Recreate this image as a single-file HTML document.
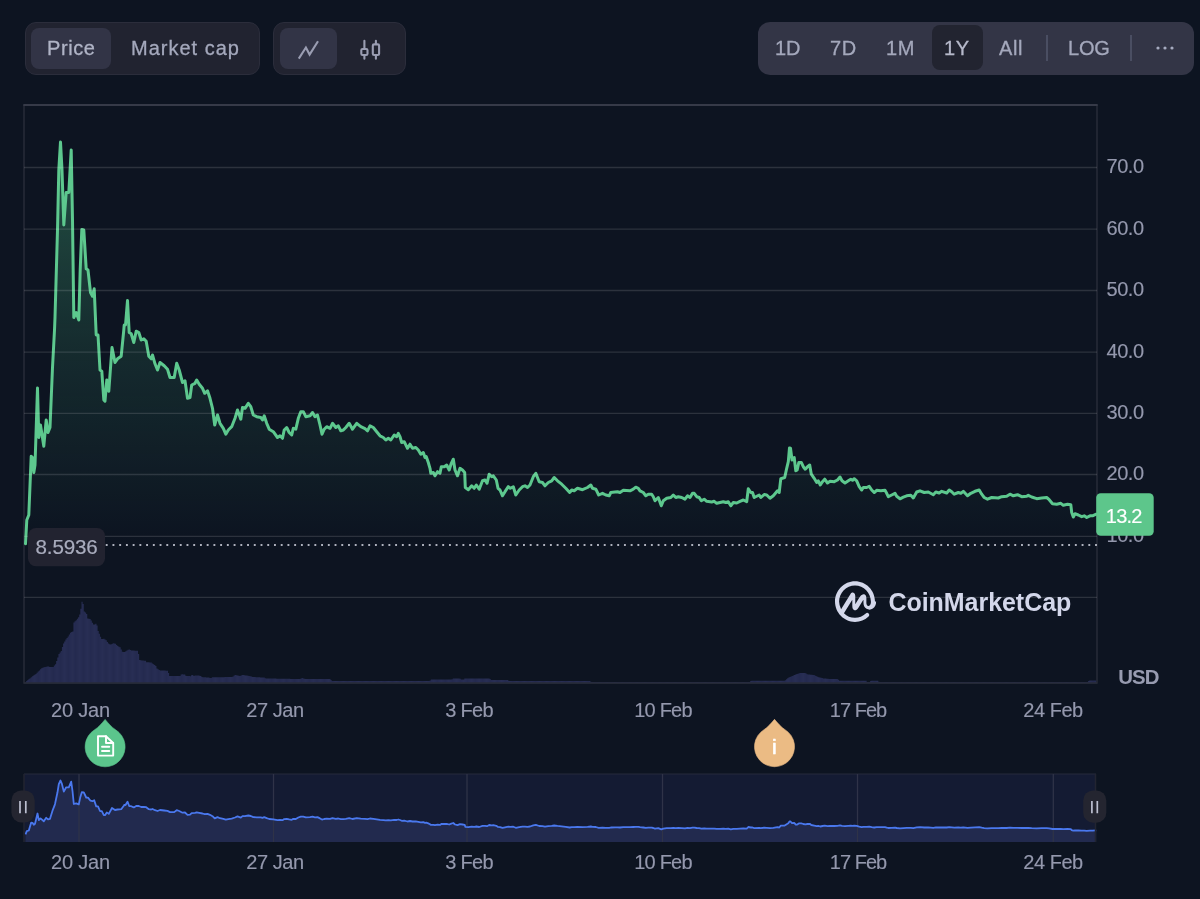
<!DOCTYPE html>
<html lang="en">
<head>
<meta charset="utf-8">
<title>Price chart</title>
<style>
html,body{margin:0;padding:0;}
body{width:1200px;height:899px;overflow:hidden;background:#0d1421;font-family:"Liberation Sans",sans-serif;position:relative;color:#a1a7bb;}
.grp{position:absolute;box-sizing:border-box;border-radius:11px;}
.g1{left:25px;top:22px;width:235px;height:53px;background:#212330;border:1px solid #2b2d3b;}
.g2{left:273px;top:22px;width:133px;height:53px;background:#212330;border:1px solid #2b2d3b;}
.g3{left:758px;top:21.5px;width:435.600px;height:53.200px;background:#333546;border-radius:12px;}
.chip{position:absolute;border-radius:8px;}
.t{position:absolute;font-size:20px;line-height:24px;white-space:nowrap;color:#a4a8bc;letter-spacing:0.6px;will-change:transform;-webkit-text-stroke:0.3px currentColor;}
.ax{font-size:20px;fill:#9498ad;letter-spacing:-0.47px;stroke:#9498ad;stroke-width:0.15px;font-family:"Liberation Sans",sans-serif;}
svg{position:absolute;left:0;top:0;will-change:transform;}
</style>
</head>
<body>

<!-- toolbar left -->
<div class="grp g1"></div>
<div class="chip" style="left:31px;top:28px;width:79.600px;height:41px;background:#323446;"></div>
<div class="t" style="left:46.700px;top:36px;color:#b0b4c6;">Price</div>
<div class="t" style="left:131px;top:36px;letter-spacing:1.0px;">Market cap</div>

<div class="grp g2"></div>
<div class="chip" style="left:280px;top:28px;width:57px;height:41px;background:#323446;"></div>

<!-- toolbar right -->
<div class="grp g3"></div>
<div class="chip" style="left:932px;top:24.5px;width:50.500px;height:45.5px;background:#222430;"></div>
<div class="t" style="left:775px;top:36px;letter-spacing:0px;">1D</div>
<div class="t" style="left:830px;top:36px;">7D</div>
<div class="t" style="left:886px;top:36px;">1M</div>
<div class="t" style="left:944px;top:36px;color:#b6b9ca;">1Y</div>
<div class="t" style="left:999px;top:36px;">All</div>
<div class="t" style="left:1068px;top:36px;letter-spacing:-0.2px;">LOG</div>
<div style="position:absolute;left:1046px;top:35px;width:2px;height:26px;background:#4a4e62;"></div>
<div style="position:absolute;left:1130px;top:35px;width:2px;height:26px;background:#4a4e62;"></div>

<svg width="1200" height="899" viewBox="0 0 1200 899">
  <defs>
    <linearGradient id="ga" x1="0" y1="142" x2="0" y2="545" gradientUnits="userSpaceOnUse">
      <stop offset="0" stop-color="#4fc88a" stop-opacity="0.34"/>
      <stop offset="0.5" stop-color="#4fc88a" stop-opacity="0.135"/>
      <stop offset="1" stop-color="#4fc88a" stop-opacity="0"/>
    </linearGradient>
    <pattern id="vp" x="25" y="0" width="1.153" height="10" patternUnits="userSpaceOnUse">
      <rect x="0" y="0" width="1.153" height="10" fill="#20264a"/>
      <rect x="0" y="0" width="0.85" height="10" fill="#282e54"/>
    </pattern>
    <clipPath id="cp"><rect x="24" y="104" width="1073" height="579"/></clipPath>
  </defs>

  <!-- toolbar icons -->
  <path d="M298.800,58.600 L305.900,47.5 L309.600,54.600 L318,41.300" fill="none" stroke="#9a9db2" stroke-width="2.100" stroke-linecap="butt" stroke-linejoin="miter"/>
  <g fill="none" stroke="#9a9db2" stroke-width="2.100" stroke-linecap="round" stroke-linejoin="round">
    <path d="M364.4,40.800 V48 M364.4,56 V58.700"/>
    <rect x="361.300" y="49" width="6.200" height="6" rx="1.3"/>
    <path d="M375.900,40.800 V43.400 M375.900,56 V58.700"/>
    <rect x="372.800" y="44.400" width="6.300" height="10.600" rx="1.3"/>
  </g>
  <g fill="#a6abc0"><circle cx="1158" cy="48" r="1.6"/><circle cx="1165" cy="48" r="1.6"/><circle cx="1172" cy="48" r="1.6"/></g>

  <path d="M24,105 V683 H1097 V105" fill="none" stroke="#272b39" stroke-width="1.5"/>
  <path d="M23.300,105 H1097.700" fill="none" stroke="#363a48" stroke-width="1.8"/>

  <!-- volume -->
  <path d="M25,683 V682.5 H26.15 V680.9 H27.31 V680.0 H28.46 V679.1 H29.61 V678.2 H30.76 V677.2 H31.92 V676.2 H33.07 V675.5 H34.22 V674.7 H35.38 V673.9 H36.53 V672.7 H37.68 V671.6 H38.84 V670.4 H39.99 V669.3 H41.14 V668.2 H42.29 V667.7 H43.45 V667.2 H44.60 V666.9 H45.75 V666.7 H46.91 V666.5 H48.06 V666.5 H49.21 V666.9 H50.37 V667.1 H51.52 V667.1 H52.67 V666.9 H53.82 V665.6 H54.98 V664.3 H56.13 V661.0 H57.28 V657.6 H58.44 V654.1 H59.59 V652.6 H60.74 V651.1 H61.90 V646.9 H63.05 V643.4 H64.20 V641.5 H65.35 V639.6 H66.51 V638.1 H67.66 V636.5 H68.81 V634.6 H69.97 V632.7 H71.12 V632.0 H72.27 V631.5 H73.43 V622.5 H74.58 V621.3 H75.73 V620.2 H76.89 V618.7 H78.04 V617.2 H79.19 V614.4 H80.34 V608.7 H81.50 V601.8 H82.65 V604.0 H83.80 V611.4 H84.96 V612.4 H86.11 V614.1 H87.26 V618.4 H88.42 V618.7 H89.57 V619.0 H90.72 V620.4 H91.87 V622.7 H93.03 V624.4 H94.18 V624.5 H95.33 V623.7 H96.49 V625.4 H97.64 V631.0 H98.79 V633.8 H99.95 V636.7 H101.10 V639.1 H102.25 V638.9 H103.40 V638.7 H104.56 V639.4 H105.71 V640.2 H106.86 V642.0 H108.02 V643.6 H109.17 V644.2 H110.32 V644.5 H111.48 V643.9 H112.63 V643.3 H113.78 V643.6 H114.93 V643.8 H116.09 V645.0 H117.24 V646.1 H118.39 V646.7 H119.55 V647.2 H120.70 V649.4 H121.85 V651.7 H123.01 V651.9 H124.16 V652.0 H125.31 V651.3 H126.46 V650.5 H127.62 V649.7 H128.77 V649.4 H129.92 V650.0 H131.08 V650.5 H132.23 V650.6 H133.38 V650.6 H134.54 V650.7 H135.69 V650.7 H136.84 V650.8 H137.99 V654.0 H139.15 V660.1 H140.30 V660.2 H141.45 V660.4 H142.61 V660.5 H143.76 V660.7 H144.91 V660.8 H146.07 V662.2 H147.22 V662.3 H148.37 V662.3 H149.52 V662.4 H150.68 V662.5 H151.83 V663.4 H152.98 V664.3 H154.14 V664.9 H155.29 V666.0 H156.44 V668.6 H157.60 V669.3 H158.75 V670.0 H159.90 V670.4 H161.05 V670.4 H162.21 V670.5 H163.36 V670.6 H164.51 V670.6 H165.67 V670.7 H166.82 V670.8 H167.97 V673.1 H169.12 V675.9 H170.28 V675.9 H171.43 V675.9 H172.58 V676.0 H173.74 V676.0 H174.89 V676.0 H176.04 V676.1 H177.20 V676.1 H178.35 V676.1 H179.50 V675.9 H180.65 V674.5 H181.81 V674.3 H182.96 V674.4 H184.11 V674.5 H185.27 V675.8 H186.42 V675.9 H187.57 V676.0 H188.73 V676.1 H189.88 V676.2 H191.03 V675.3 H192.18 V675.1 H193.34 V676.1 H194.49 V675.6 H195.64 V675.4 H196.80 V675.5 H197.95 V675.6 H199.10 V675.7 H200.26 V676.0 H201.41 V676.9 H202.56 V677.2 H203.71 V677.3 H204.87 V677.3 H206.02 V677.4 H207.17 V677.4 H208.33 V677.5 H209.48 V678.0 H210.63 V678.0 H211.79 V677.2 H212.94 V677.2 H214.09 V677.2 H215.24 V677.2 H216.40 V677.2 H217.55 V677.2 H218.70 V677.2 H219.86 V677.2 H221.01 V677.2 H222.16 V677.2 H223.32 V677.2 H224.47 V677.1 H225.62 V677.1 H226.77 V677.1 H227.93 V677.1 H229.08 V677.1 H230.23 V677.0 H231.39 V677.0 H232.54 V676.5 H233.69 V675.6 H234.85 V675.1 H236.00 V675.3 H237.15 V675.5 H238.30 V675.8 H239.46 V676.0 H240.61 V675.5 H241.76 V675.1 H242.92 V675.1 H244.07 V675.3 H245.22 V675.4 H246.38 V675.6 H247.53 V675.7 H248.68 V675.9 H249.83 V676.2 H250.99 V676.6 H252.14 V677.0 H253.29 V677.1 H254.45 V677.1 H255.60 V677.2 H256.75 V677.2 H257.91 V677.3 H259.06 V677.3 H260.21 V677.4 H261.36 V677.4 H262.52 V677.5 H263.67 V677.6 H264.82 V678.2 H265.98 V678.5 H267.13 V678.5 H268.28 V678.5 H269.44 V678.6 H270.59 V678.6 H271.74 V678.6 H272.89 V678.6 H274.05 V678.6 H275.20 V678.6 H276.35 V678.7 H277.51 V678.7 H278.66 V678.7 H279.81 V678.7 H280.97 V678.7 H282.12 V678.7 H283.27 V678.8 H284.42 V678.8 H285.58 V678.8 H286.73 V678.8 H287.88 V678.8 H289.04 V678.8 H290.19 V678.9 H291.34 V678.9 H292.50 V678.9 H293.65 V678.9 H294.80 V678.9 H295.96 V678.9 H297.11 V679.0 H298.26 V679.0 H299.41 V679.0 H300.57 V678.4 H301.72 V678.1 H302.87 V678.4 H304.03 V678.7 H305.18 V678.9 H306.33 V679.0 H307.49 V679.0 H308.64 V679.0 H309.79 V679.0 H310.94 V679.0 H312.10 V679.0 H313.25 V679.0 H314.40 V679.0 H315.56 V679.0 H316.71 V679.0 H317.86 V679.0 H319.02 V679.0 H320.17 V679.0 H321.32 V679.0 H322.47 V679.0 H323.63 V679.0 H324.78 V679.0 H325.93 V679.0 H327.09 V679.0 H328.24 V679.0 H329.39 V679.0 H330.55 V680.1 H331.70 V681.0 H332.85 V681.0 H334.00 V681.0 H335.16 V681.0 H336.31 V681.0 H337.46 V681.0 H338.62 V681.0 H339.77 V681.0 H340.92 V681.0 H342.08 V681.0 H343.23 V681.0 H344.38 V681.0 H345.53 V681.0 H346.69 V681.0 H347.84 V681.0 H348.99 V681.0 H350.15 V681.0 H351.30 V681.0 H352.45 V681.0 H353.61 V681.0 H354.76 V681.0 H355.91 V681.0 H357.06 V681.0 H358.22 V681.0 H359.37 V681.0 H360.52 V681.0 H361.68 V681.0 H362.83 V681.0 H363.98 V681.0 H365.14 V681.0 H366.29 V681.0 H367.44 V681.0 H368.59 V681.0 H369.75 V681.0 H370.90 V681.0 H372.05 V681.0 H373.21 V681.0 H374.36 V681.0 H375.51 V681.0 H376.67 V681.0 H377.82 V681.0 H378.97 V681.0 H380.12 V681.0 H381.28 V681.0 H382.43 V681.0 H383.58 V681.0 H384.74 V681.0 H385.89 V681.0 H387.04 V681.0 H388.20 V681.0 H389.35 V681.0 H390.50 V681.0 H391.65 V681.0 H392.81 V681.0 H393.96 V681.0 H395.11 V681.0 H396.27 V681.0 H397.42 V681.0 H398.57 V681.0 H399.73 V681.0 H400.88 V681.0 H402.03 V681.0 H403.18 V681.0 H404.34 V681.0 H405.49 V681.0 H406.64 V681.0 H407.80 V681.0 H408.95 V681.0 H410.10 V681.0 H411.26 V681.0 H412.41 V681.0 H413.56 V681.0 H414.71 V681.0 H415.87 V681.0 H417.02 V681.0 H418.17 V681.0 H419.33 V681.0 H420.48 V681.0 H421.63 V681.0 H422.79 V681.0 H423.94 V681.0 H425.09 V681.0 H426.24 V681.0 H427.40 V681.0 H428.55 V681.0 H429.70 V680.6 H430.86 V679.5 H432.01 V679.5 H433.16 V679.5 H434.32 V679.5 H435.47 V679.5 H436.62 V679.5 H437.77 V679.5 H438.93 V679.5 H440.08 V679.5 H441.23 V679.5 H442.39 V679.5 H443.54 V679.5 H444.69 V679.5 H445.85 V679.5 H447.00 V679.5 H448.15 V679.5 H449.30 V679.5 H450.46 V679.5 H451.61 V679.3 H452.76 V678.5 H453.92 V678.5 H455.07 V678.5 H456.22 V678.5 H457.38 V678.5 H458.53 V678.5 H459.68 V678.8 H460.83 V679.5 H461.99 V679.5 H463.14 V679.5 H464.29 V678.6 H465.45 V678.5 H466.60 V678.5 H467.75 V678.5 H468.91 V678.5 H470.06 V678.5 H471.21 V678.5 H472.36 V678.5 H473.52 V678.5 H474.67 V678.5 H475.82 V678.5 H476.98 V678.5 H478.13 V678.5 H479.28 V678.5 H480.44 V678.5 H481.59 V678.5 H482.74 V678.5 H483.89 V678.5 H485.05 V678.5 H486.20 V678.5 H487.35 V678.5 H488.51 V678.5 H489.66 V678.9 H490.81 V680.0 H491.97 V680.0 H493.12 V680.0 H494.27 V680.0 H495.42 V680.0 H496.58 V680.0 H497.73 V680.0 H498.88 V680.0 H500.04 V680.0 H501.19 V680.0 H502.34 V680.0 H503.50 V680.0 H504.65 V680.0 H505.80 V680.0 H506.95 V680.0 H508.11 V680.7 H509.26 V681.0 H510.41 V681.0 H511.57 V681.0 H512.72 V681.0 H513.87 V681.0 H515.03 V681.0 H516.18 V681.0 H517.33 V681.0 H518.48 V681.0 H519.64 V681.0 H520.79 V681.0 H521.94 V681.0 H523.10 V681.0 H524.25 V681.0 H525.40 V681.0 H526.56 V681.0 H527.71 V681.0 H528.86 V681.0 H530.01 V681.0 H531.17 V681.0 H532.32 V681.0 H533.47 V681.0 H534.63 V681.0 H535.78 V681.0 H536.93 V681.0 H538.09 V681.0 H539.24 V681.0 H540.39 V681.0 H541.54 V681.0 H542.70 V681.0 H543.85 V681.0 H545.00 V681.0 H546.16 V681.0 H547.31 V681.0 H548.46 V681.0 H549.62 V681.0 H550.77 V681.0 H551.92 V681.0 H553.07 V681.0 H554.23 V681.0 H555.38 V681.0 H556.53 V681.0 H557.69 V681.0 H558.84 V681.0 H559.99 V681.0 H561.15 V681.0 H562.30 V681.0 H563.45 V681.0 H564.60 V681.0 H565.76 V681.0 H566.91 V681.0 H568.06 V681.0 H569.22 V681.0 H570.37 V681.0 H571.52 V681.0 H572.68 V681.0 H573.83 V681.0 H574.98 V681.0 H576.13 V681.0 H577.29 V681.0 H578.44 V681.0 H579.59 V681.0 H580.75 V681.0 H581.90 V681.0 H583.05 V681.0 H584.21 V681.0 H585.36 V681.0 H586.51 V681.0 H587.66 V681.0 H588.82 V681.0 H589.97 V681.5 H591.12 V682.0 H592.28 V682.0 H593.43 V682.0 H594.58 V682.0 H595.74 V682.0 H596.89 V682.0 H598.04 V682.0 H599.19 V682.0 H600.35 V682.0 H601.50 V682.0 H602.65 V682.0 H603.81 V682.0 H604.96 V682.0 H606.11 V682.0 H607.27 V682.0 H608.42 V682.0 H609.57 V682.0 H610.72 V682.0 H611.88 V682.0 H613.03 V682.0 H614.18 V682.0 H615.34 V682.0 H616.49 V682.0 H617.64 V682.0 H618.80 V682.0 H619.95 V682.0 H621.10 V682.0 H622.25 V682.0 H623.41 V682.0 H624.56 V682.0 H625.71 V682.0 H626.87 V682.0 H628.02 V682.0 H629.17 V682.0 H630.33 V682.0 H631.48 V682.0 H632.63 V682.0 H633.78 V682.0 H634.94 V682.0 H636.09 V682.0 H637.24 V682.0 H638.40 V682.0 H639.55 V682.0 H640.70 V682.0 H641.86 V682.0 H643.01 V682.0 H644.16 V682.0 H645.31 V682.0 H646.47 V682.0 H647.62 V682.0 H648.77 V682.0 H649.93 V682.0 H651.08 V682.0 H652.23 V682.0 H653.39 V682.0 H654.54 V682.0 H655.69 V682.0 H656.84 V682.0 H658.00 V682.0 H659.15 V682.0 H660.30 V682.0 H661.46 V682.0 H662.61 V682.0 H663.76 V682.0 H664.92 V682.0 H666.07 V682.0 H667.22 V682.0 H668.37 V682.0 H669.53 V682.0 H670.68 V682.0 H671.83 V682.0 H672.99 V682.0 H674.14 V682.0 H675.29 V682.0 H676.45 V682.0 H677.60 V682.0 H678.75 V682.0 H679.90 V682.0 H681.06 V682.0 H682.21 V682.0 H683.36 V682.0 H684.52 V682.0 H685.67 V682.0 H686.82 V682.0 H687.98 V682.0 H689.13 V682.0 H690.28 V682.0 H691.43 V682.0 H692.59 V682.0 H693.74 V682.0 H694.89 V682.0 H696.05 V682.0 H697.20 V682.0 H698.35 V682.0 H699.51 V682.0 H700.66 V682.0 H701.81 V682.0 H702.96 V682.0 H704.12 V682.0 H705.27 V682.0 H706.42 V682.0 H707.58 V682.0 H708.73 V682.0 H709.88 V682.0 H711.04 V682.0 H712.19 V682.0 H713.34 V682.0 H714.49 V682.0 H715.65 V682.0 H716.80 V682.0 H717.95 V682.0 H719.11 V682.0 H720.26 V682.0 H721.41 V682.0 H722.57 V682.0 H723.72 V682.0 H724.87 V682.0 H726.02 V682.0 H727.18 V682.0 H728.33 V682.0 H729.48 V682.0 H730.64 V682.0 H731.79 V682.0 H732.94 V682.0 H734.10 V682.0 H735.25 V682.0 H736.40 V682.0 H737.55 V682.0 H738.71 V682.0 H739.86 V682.0 H741.01 V682.0 H742.17 V682.0 H743.32 V682.0 H744.47 V682.0 H745.63 V682.0 H746.78 V682.0 H747.93 V682.0 H749.08 V682.0 H750.24 V680.9 H751.39 V680.7 H752.54 V680.7 H753.70 V680.7 H754.85 V680.7 H756.00 V680.7 H757.16 V680.7 H758.31 V680.7 H759.46 V680.7 H760.61 V680.7 H761.77 V680.7 H762.92 V680.7 H764.07 V680.7 H765.23 V680.7 H766.38 V680.7 H767.53 V680.7 H768.69 V680.7 H769.84 V680.7 H770.99 V680.7 H772.14 V680.7 H773.30 V680.7 H774.45 V680.7 H775.60 V680.7 H776.76 V680.7 H777.91 V680.7 H779.06 V680.7 H780.22 V680.7 H781.37 V680.7 H782.52 V680.7 H783.67 V680.7 H784.83 V680.3 H785.98 V679.3 H787.13 V678.3 H788.29 V677.6 H789.44 V677.0 H790.59 V676.4 H791.75 V675.9 H792.90 V675.4 H794.05 V675.0 H795.20 V674.6 H796.36 V674.1 H797.51 V673.7 H798.66 V673.3 H799.82 V673.0 H800.97 V673.0 H802.12 V673.0 H803.28 V673.0 H804.43 V673.0 H805.58 V673.6 H806.73 V674.2 H807.89 V674.5 H809.04 V674.6 H810.19 V674.7 H811.35 V674.8 H812.50 V674.9 H813.65 V675.1 H814.81 V675.7 H815.96 V676.3 H817.11 V676.8 H818.26 V677.2 H819.42 V677.5 H820.57 V677.8 H821.72 V678.1 H822.88 V678.4 H824.03 V678.6 H825.18 V678.6 H826.34 V678.7 H827.49 V678.8 H828.64 V678.9 H829.79 V679.0 H830.95 V679.0 H832.10 V679.0 H833.25 V679.0 H834.41 V679.0 H835.56 V679.0 H836.71 V679.0 H837.87 V679.8 H839.02 V680.7 H840.17 V680.7 H841.32 V680.7 H842.48 V680.7 H843.63 V680.7 H844.78 V680.7 H845.94 V680.7 H847.09 V680.7 H848.24 V680.7 H849.40 V680.7 H850.55 V680.7 H851.70 V680.7 H852.85 V680.7 H854.01 V680.7 H855.16 V680.7 H856.31 V680.7 H857.47 V680.7 H858.62 V680.7 H859.77 V680.7 H860.93 V680.7 H862.08 V680.7 H863.23 V680.7 H864.38 V680.7 H865.54 V680.8 H866.69 V682.0 H867.84 V682.0 H869.00 V682.0 H870.15 V681.1 H871.30 V680.7 H872.46 V680.7 H873.61 V680.7 H874.76 V680.7 H875.91 V680.7 H877.07 V680.7 H878.22 V681.7 H879.37 V682.0 H880.53 V682.0 H881.68 V682.0 H882.83 V682.0 H883.99 V682.0 H885.14 V682.0 H886.29 V682.0 H887.44 V682.0 H888.60 V682.0 H889.75 V682.0 H890.90 V682.0 H892.06 V682.0 H893.21 V682.0 H894.36 V682.0 H895.52 V682.0 H896.67 V682.0 H897.82 V682.0 H898.97 V682.0 H900.13 V682.0 H901.28 V682.0 H902.43 V682.0 H903.59 V682.0 H904.74 V682.0 H905.89 V682.0 H907.05 V682.0 H908.20 V682.0 H909.35 V682.0 H910.50 V682.0 H911.66 V682.0 H912.81 V682.0 H913.96 V682.0 H915.12 V682.0 H916.27 V682.0 H917.42 V682.0 H918.58 V682.0 H919.73 V682.0 H920.88 V682.0 H922.03 V682.0 H923.19 V682.0 H924.34 V682.0 H925.49 V682.0 H926.65 V682.0 H927.80 V682.0 H928.95 V682.0 H930.11 V682.0 H931.26 V682.0 H932.41 V682.0 H933.56 V682.0 H934.72 V682.0 H935.87 V682.0 H937.02 V682.0 H938.18 V682.0 H939.33 V682.0 H940.48 V682.0 H941.64 V682.0 H942.79 V682.0 H943.94 V682.0 H945.09 V682.0 H946.25 V682.0 H947.40 V682.0 H948.55 V682.0 H949.71 V682.0 H950.86 V682.0 H952.01 V682.0 H953.17 V682.0 H954.32 V682.0 H955.47 V682.0 H956.62 V682.0 H957.78 V682.0 H958.93 V682.0 H960.08 V682.0 H961.24 V682.0 H962.39 V682.0 H963.54 V682.0 H964.70 V682.0 H965.85 V682.0 H967.00 V682.0 H968.15 V682.0 H969.31 V682.0 H970.46 V682.0 H971.61 V682.0 H972.77 V682.0 H973.92 V682.0 H975.07 V682.0 H976.23 V682.0 H977.38 V682.0 H978.53 V682.0 H979.68 V682.0 H980.84 V682.0 H981.99 V682.0 H983.14 V682.0 H984.30 V682.0 H985.45 V682.0 H986.60 V682.0 H987.76 V682.0 H988.91 V682.0 H990.06 V682.0 H991.21 V682.0 H992.37 V682.0 H993.52 V682.0 H994.67 V682.0 H995.83 V682.0 H996.98 V682.0 H998.13 V682.0 H999.29 V682.0 H1000.44 V682.0 H1001.59 V682.0 H1002.74 V682.0 H1003.90 V682.0 H1005.05 V682.0 H1006.20 V682.0 H1007.36 V682.0 H1008.51 V682.0 H1009.66 V682.0 H1010.82 V682.0 H1011.97 V682.0 H1013.12 V682.0 H1014.27 V682.0 H1015.43 V682.0 H1016.58 V682.0 H1017.73 V682.0 H1018.89 V682.0 H1020.04 V682.0 H1021.19 V682.0 H1022.35 V682.0 H1023.50 V682.0 H1024.65 V682.0 H1025.80 V682.0 H1026.96 V682.0 H1028.11 V682.0 H1029.26 V682.0 H1030.42 V682.0 H1031.57 V682.0 H1032.72 V682.0 H1033.88 V682.0 H1035.03 V682.0 H1036.18 V682.0 H1037.33 V682.0 H1038.49 V682.0 H1039.64 V682.0 H1040.79 V682.0 H1041.95 V682.0 H1043.10 V682.0 H1044.25 V682.0 H1045.41 V682.0 H1046.56 V682.0 H1047.71 V682.0 H1048.86 V682.0 H1050.02 V682.0 H1051.17 V682.0 H1052.32 V682.0 H1053.48 V682.0 H1054.63 V682.0 H1055.78 V682.0 H1056.94 V682.0 H1058.09 V682.0 H1059.24 V682.0 H1060.39 V682.0 H1061.55 V682.0 H1062.70 V682.0 H1063.85 V682.0 H1065.01 V682.0 H1066.16 V682.0 H1067.31 V682.0 H1068.47 V682.0 H1069.62 V682.0 H1070.77 V682.0 H1071.92 V682.0 H1073.08 V682.0 H1074.23 V682.0 H1075.38 V682.0 H1076.54 V682.0 H1077.69 V682.0 H1078.84 V682.0 H1080.00 V682.0 H1081.15 V682.0 H1082.30 V682.0 H1083.45 V682.0 H1084.61 V682.0 H1085.76 V682.0 H1086.91 V682.0 H1088.07 V681.0 H1089.22 V680.5 H1090.37 V680.5 H1091.53 V680.5 H1092.68 V680.5 H1093.83 V680.5 H1094.98 V680.5 H1096.14 V683 Z" fill="url(#vp)"/>

  <!-- area + line -->
  <g clip-path="url(#cp)">
    <path d="M25.5,543.8 L26.8,520.0 L28.8,515.0 L31.2,456.2 L32.5,457.5 L33.8,472.5 L35.0,465.0 L37.5,388.0 L38.8,437.5 L40.5,425.0 L43.8,446.2 L46.2,420.0 L48.0,432.5 L50.0,427.5 L52.5,367.5 L54.5,330.0 L55.0,317.5 L57.5,230.0 L58.8,170.0 L60.5,142.0 L62.0,170.0 L63.8,225.0 L66.2,192.5 L68.8,192.5 L71.2,150.0 L72.5,220.0 L73.8,317.5 L76.2,312.5 L78.8,320.0 L80.2,270.0 L81.8,229.5 L83.8,230.0 L86.2,268.8 L88.0,270.0 L90.5,292.5 L92.5,296.2 L94.2,288.8 L96.2,335.0 L98.0,335.0 L100.0,370.0 L101.8,371.2 L103.8,400.0 L105.0,401.2 L106.8,380.0 L108.8,391.2 L112.0,347.5 L115.0,362.5 L117.5,358.8 L121.2,356.2 L123.8,330.0 L124.2,325.0 L125.5,325.0 L127.5,300.5 L129.2,332.5 L131.2,333.8 L133.8,342.5 L136.2,331.2 L138.8,332.5 L141.2,340.0 L143.8,338.8 L146.2,341.2 L148.8,356.2 L151.2,358.8 L152.5,355.0 L155.0,363.8 L157.5,370.0 L160.0,362.5 L164.2,365.8 L167.5,369.2 L170.0,377.5 L174.2,377.5 L176.7,363.3 L179.2,370.0 L182.5,382.5 L185.0,380.8 L187.5,398.3 L190.0,397.5 L191.7,385.0 L195.0,383.3 L196.7,380.0 L199.2,384.2 L202.5,388.3 L204.7,393.3 L207.5,390.8 L210.0,398.3 L212.5,408.3 L214.7,425.0 L217.5,415.0 L220.0,423.3 L223.3,428.3 L225.8,434.2 L228.3,430.0 L231.7,426.7 L235.0,418.3 L237.5,410.0 L240.8,419.2 L242.5,407.5 L245.0,408.3 L248.3,403.3 L250.8,406.7 L253.3,415.0 L256.7,416.7 L260.8,417.5 L262.5,420.0 L264.2,415.8 L266.7,423.3 L269.2,429.2 L273.3,431.7 L277.5,437.5 L280.0,435.8 L282.5,438.3 L284.2,430.0 L286.7,427.5 L289.2,432.5 L291.7,435.0 L293.3,428.3 L295.8,429.2 L298.3,418.3 L300.8,411.7 L303.3,411.7 L305.8,416.7 L310.0,415.8 L312.5,412.5 L315.0,416.7 L317.5,415.0 L320.0,425.0 L322.0,434.2 L324.2,429.2 L326.7,426.7 L330.0,428.3 L332.5,423.3 L335.8,427.5 L338.3,425.8 L340.8,430.8 L343.3,430.0 L345.8,427.5 L349.2,423.3 L352.5,429.2 L356.7,423.3 L360.8,426.7 L365.0,428.7 L367.5,430.8 L370.0,425.8 L373.3,427.5 L376.7,431.7 L380.0,435.8 L383.3,437.5 L385.8,440.0 L388.3,438.3 L390.8,440.0 L394.2,435.0 L396.7,436.7 L398.3,433.3 L400.0,436.7 L401.7,442.5 L404.2,441.7 L407.5,448.3 L410.0,444.2 L412.5,448.3 L415.8,447.5 L418.3,450.0 L420.8,454.2 L423.3,452.5 L425.0,457.5 L426.3,456.7 L428.3,462.5 L430.0,468.3 L430.8,473.3 L433.3,472.5 L435.0,475.8 L437.5,471.7 L440.0,473.3 L441.3,466.7 L444.2,466.7 L446.7,465.0 L449.2,470.0 L451.3,463.3 L453.3,459.2 L455.0,470.0 L457.5,475.8 L460.0,468.3 L462.5,470.0 L464.7,472.5 L465.3,487.5 L468.3,489.7 L471.7,485.8 L474.2,488.3 L476.3,485.0 L479.2,489.2 L482.5,480.8 L485.0,480.0 L487.0,483.3 L489.2,474.2 L491.7,476.7 L493.3,475.8 L496.3,480.0 L498.0,488.3 L500.0,490.0 L502.5,495.8 L505.0,491.7 L508.3,486.7 L510.3,488.3 L513.3,486.7 L515.8,495.0 L519.2,490.0 L522.5,486.7 L525.0,485.8 L527.5,487.5 L530.0,485.0 L533.3,476.7 L535.8,473.3 L539.2,481.7 L542.5,482.5 L545.0,485.8 L548.3,482.5 L551.7,480.8 L554.2,477.5 L557.5,480.8 L561.7,484.2 L565.8,488.3 L569.7,492.5 L571.7,490.0 L574.2,490.8 L577.5,488.3 L582.5,489.7 L587.5,487.5 L590.8,485.0 L592.5,488.3 L595.8,489.2 L598.7,495.0 L602.5,493.3 L605.8,495.0 L609.2,495.8 L610.8,492.5 L615.0,492.0 L617.5,491.7 L620.0,492.5 L623.3,490.3 L630.0,490.8 L633.3,489.2 L635.8,487.2 L638.3,488.3 L640.0,490.8 L643.3,492.5 L645.8,495.8 L648.3,494.2 L651.7,494.2 L653.3,496.7 L655.0,500.8 L658.3,497.5 L661.3,505.8 L663.3,500.8 L666.7,498.3 L670.8,497.5 L673.3,495.0 L675.8,497.5 L678.3,496.7 L681.7,497.5 L685.0,499.2 L687.5,495.8 L690.0,497.5 L692.5,493.3 L694.2,493.3 L696.7,496.7 L699.2,497.5 L701.3,500.8 L704.2,499.2 L706.7,501.3 L711.7,502.0 L714.2,501.3 L716.7,503.3 L720.0,502.5 L723.3,501.7 L725.8,502.5 L728.3,501.7 L730.8,505.8 L733.3,502.5 L736.7,503.0 L740.0,501.3 L743.3,500.0 L746.7,501.7 L748.3,488.7 L750.8,492.5 L752.5,492.5 L754.2,497.5 L759.2,495.0 L760.8,497.5 L764.2,494.5 L766.7,495.0 L770.0,498.3 L773.3,495.8 L777.5,490.8 L779.2,492.5 L780.8,478.7 L784.7,477.5 L786.7,468.3 L788.3,461.7 L789.5,448.0 L790.5,448.3 L792.0,460.0 L794.2,457.5 L795.8,470.8 L797.2,470.0 L798.8,462.5 L801.3,462.5 L803.3,466.7 L805.3,469.2 L807.5,466.7 L809.7,465.0 L811.3,474.2 L814.2,478.3 L816.7,482.5 L818.3,480.8 L820.3,485.0 L822.5,481.7 L824.7,479.2 L827.5,483.0 L830.0,481.3 L834.2,481.7 L837.5,480.0 L840.0,477.0 L842.0,480.8 L845.0,483.0 L848.3,480.8 L850.8,479.2 L852.5,480.3 L854.2,478.7 L856.7,480.8 L859.2,486.7 L861.7,490.0 L863.3,487.5 L866.7,487.5 L869.2,486.3 L871.7,490.0 L874.2,492.5 L876.7,490.3 L880.8,490.8 L885.0,490.3 L886.7,493.3 L888.3,496.7 L891.7,495.0 L895.0,493.3 L896.7,496.3 L900.0,498.8 L903.3,497.2 L906.7,495.8 L910.8,495.3 L913.3,498.0 L916.7,492.0 L920.0,490.8 L924.2,492.5 L928.3,492.0 L933.3,494.7 L935.8,492.0 L939.2,493.0 L941.7,491.3 L946.7,493.0 L949.2,490.0 L951.7,491.7 L954.2,494.2 L958.3,492.5 L960.8,493.3 L963.3,491.3 L967.5,495.8 L970.8,493.3 L975.0,491.3 L979.2,490.0 L981.7,494.2 L984.2,497.5 L987.5,499.2 L991.7,497.5 L998.3,498.0 L1001.7,496.7 L1006.7,496.3 L1010.0,494.2 L1013.3,495.8 L1017.5,494.7 L1021.7,496.7 L1026.7,496.3 L1028.3,495.3 L1031.7,497.0 L1036.7,498.7 L1041.7,498.0 L1046.7,497.5 L1049.2,499.7 L1052.5,503.7 L1056.7,504.2 L1060.8,503.3 L1063.3,505.3 L1067.5,504.2 L1070.8,504.7 L1071.7,512.5 L1073.3,517.0 L1075.0,513.7 L1078.3,515.0 L1081.7,516.7 L1084.2,515.8 L1086.7,517.5 L1090.0,515.8 L1092.5,515.8 L1096.2,514.2 L1096.2,683 L25.5,683 Z" fill="url(#ga)"/>
  </g>
  <path d="M24,683 H1097" stroke="#272b39" stroke-width="1.5"/>
  <path d="M25.5,543.8 L26.8,520.0 L28.8,515.0 L31.2,456.2 L32.5,457.5 L33.8,472.5 L35.0,465.0 L37.5,388.0 L38.8,437.5 L40.5,425.0 L43.8,446.2 L46.2,420.0 L48.0,432.5 L50.0,427.5 L52.5,367.5 L54.5,330.0 L55.0,317.5 L57.5,230.0 L58.8,170.0 L60.5,142.0 L62.0,170.0 L63.8,225.0 L66.2,192.5 L68.8,192.5 L71.2,150.0 L72.5,220.0 L73.8,317.5 L76.2,312.5 L78.8,320.0 L80.2,270.0 L81.8,229.5 L83.8,230.0 L86.2,268.8 L88.0,270.0 L90.5,292.5 L92.5,296.2 L94.2,288.8 L96.2,335.0 L98.0,335.0 L100.0,370.0 L101.8,371.2 L103.8,400.0 L105.0,401.2 L106.8,380.0 L108.8,391.2 L112.0,347.5 L115.0,362.5 L117.5,358.8 L121.2,356.2 L123.8,330.0 L124.2,325.0 L125.5,325.0 L127.5,300.5 L129.2,332.5 L131.2,333.8 L133.8,342.5 L136.2,331.2 L138.8,332.5 L141.2,340.0 L143.8,338.8 L146.2,341.2 L148.8,356.2 L151.2,358.8 L152.5,355.0 L155.0,363.8 L157.5,370.0 L160.0,362.5 L164.2,365.8 L167.5,369.2 L170.0,377.5 L174.2,377.5 L176.7,363.3 L179.2,370.0 L182.5,382.5 L185.0,380.8 L187.5,398.3 L190.0,397.5 L191.7,385.0 L195.0,383.3 L196.7,380.0 L199.2,384.2 L202.5,388.3 L204.7,393.3 L207.5,390.8 L210.0,398.3 L212.5,408.3 L214.7,425.0 L217.5,415.0 L220.0,423.3 L223.3,428.3 L225.8,434.2 L228.3,430.0 L231.7,426.7 L235.0,418.3 L237.5,410.0 L240.8,419.2 L242.5,407.5 L245.0,408.3 L248.3,403.3 L250.8,406.7 L253.3,415.0 L256.7,416.7 L260.8,417.5 L262.5,420.0 L264.2,415.8 L266.7,423.3 L269.2,429.2 L273.3,431.7 L277.5,437.5 L280.0,435.8 L282.5,438.3 L284.2,430.0 L286.7,427.5 L289.2,432.5 L291.7,435.0 L293.3,428.3 L295.8,429.2 L298.3,418.3 L300.8,411.7 L303.3,411.7 L305.8,416.7 L310.0,415.8 L312.5,412.5 L315.0,416.7 L317.5,415.0 L320.0,425.0 L322.0,434.2 L324.2,429.2 L326.7,426.7 L330.0,428.3 L332.5,423.3 L335.8,427.5 L338.3,425.8 L340.8,430.8 L343.3,430.0 L345.8,427.5 L349.2,423.3 L352.5,429.2 L356.7,423.3 L360.8,426.7 L365.0,428.7 L367.5,430.8 L370.0,425.8 L373.3,427.5 L376.7,431.7 L380.0,435.8 L383.3,437.5 L385.8,440.0 L388.3,438.3 L390.8,440.0 L394.2,435.0 L396.7,436.7 L398.3,433.3 L400.0,436.7 L401.7,442.5 L404.2,441.7 L407.5,448.3 L410.0,444.2 L412.5,448.3 L415.8,447.5 L418.3,450.0 L420.8,454.2 L423.3,452.5 L425.0,457.5 L426.3,456.7 L428.3,462.5 L430.0,468.3 L430.8,473.3 L433.3,472.5 L435.0,475.8 L437.5,471.7 L440.0,473.3 L441.3,466.7 L444.2,466.7 L446.7,465.0 L449.2,470.0 L451.3,463.3 L453.3,459.2 L455.0,470.0 L457.5,475.8 L460.0,468.3 L462.5,470.0 L464.7,472.5 L465.3,487.5 L468.3,489.7 L471.7,485.8 L474.2,488.3 L476.3,485.0 L479.2,489.2 L482.5,480.8 L485.0,480.0 L487.0,483.3 L489.2,474.2 L491.7,476.7 L493.3,475.8 L496.3,480.0 L498.0,488.3 L500.0,490.0 L502.5,495.8 L505.0,491.7 L508.3,486.7 L510.3,488.3 L513.3,486.7 L515.8,495.0 L519.2,490.0 L522.5,486.7 L525.0,485.8 L527.5,487.5 L530.0,485.0 L533.3,476.7 L535.8,473.3 L539.2,481.7 L542.5,482.5 L545.0,485.8 L548.3,482.5 L551.7,480.8 L554.2,477.5 L557.5,480.8 L561.7,484.2 L565.8,488.3 L569.7,492.5 L571.7,490.0 L574.2,490.8 L577.5,488.3 L582.5,489.7 L587.5,487.5 L590.8,485.0 L592.5,488.3 L595.8,489.2 L598.7,495.0 L602.5,493.3 L605.8,495.0 L609.2,495.8 L610.8,492.5 L615.0,492.0 L617.5,491.7 L620.0,492.5 L623.3,490.3 L630.0,490.8 L633.3,489.2 L635.8,487.2 L638.3,488.3 L640.0,490.8 L643.3,492.5 L645.8,495.8 L648.3,494.2 L651.7,494.2 L653.3,496.7 L655.0,500.8 L658.3,497.5 L661.3,505.8 L663.3,500.8 L666.7,498.3 L670.8,497.5 L673.3,495.0 L675.8,497.5 L678.3,496.7 L681.7,497.5 L685.0,499.2 L687.5,495.8 L690.0,497.5 L692.5,493.3 L694.2,493.3 L696.7,496.7 L699.2,497.5 L701.3,500.8 L704.2,499.2 L706.7,501.3 L711.7,502.0 L714.2,501.3 L716.7,503.3 L720.0,502.5 L723.3,501.7 L725.8,502.5 L728.3,501.7 L730.8,505.8 L733.3,502.5 L736.7,503.0 L740.0,501.3 L743.3,500.0 L746.7,501.7 L748.3,488.7 L750.8,492.5 L752.5,492.5 L754.2,497.5 L759.2,495.0 L760.8,497.5 L764.2,494.5 L766.7,495.0 L770.0,498.3 L773.3,495.8 L777.5,490.8 L779.2,492.5 L780.8,478.7 L784.7,477.5 L786.7,468.3 L788.3,461.7 L789.5,448.0 L790.5,448.3 L792.0,460.0 L794.2,457.5 L795.8,470.8 L797.2,470.0 L798.8,462.5 L801.3,462.5 L803.3,466.7 L805.3,469.2 L807.5,466.7 L809.7,465.0 L811.3,474.2 L814.2,478.3 L816.7,482.5 L818.3,480.8 L820.3,485.0 L822.5,481.7 L824.7,479.2 L827.5,483.0 L830.0,481.3 L834.2,481.7 L837.5,480.0 L840.0,477.0 L842.0,480.8 L845.0,483.0 L848.3,480.8 L850.8,479.2 L852.5,480.3 L854.2,478.7 L856.7,480.8 L859.2,486.7 L861.7,490.0 L863.3,487.5 L866.7,487.5 L869.2,486.3 L871.7,490.0 L874.2,492.5 L876.7,490.3 L880.8,490.8 L885.0,490.3 L886.7,493.3 L888.3,496.7 L891.7,495.0 L895.0,493.3 L896.7,496.3 L900.0,498.8 L903.3,497.2 L906.7,495.8 L910.8,495.3 L913.3,498.0 L916.7,492.0 L920.0,490.8 L924.2,492.5 L928.3,492.0 L933.3,494.7 L935.8,492.0 L939.2,493.0 L941.7,491.3 L946.7,493.0 L949.2,490.0 L951.7,491.7 L954.2,494.2 L958.3,492.5 L960.8,493.3 L963.3,491.3 L967.5,495.8 L970.8,493.3 L975.0,491.3 L979.2,490.0 L981.7,494.2 L984.2,497.5 L987.5,499.2 L991.7,497.5 L998.3,498.0 L1001.7,496.7 L1006.7,496.3 L1010.0,494.2 L1013.3,495.8 L1017.5,494.7 L1021.7,496.7 L1026.7,496.3 L1028.3,495.3 L1031.7,497.0 L1036.7,498.7 L1041.7,498.0 L1046.7,497.5 L1049.2,499.7 L1052.5,503.7 L1056.7,504.2 L1060.8,503.3 L1063.3,505.3 L1067.5,504.2 L1070.8,504.7 L1071.7,512.5 L1073.3,517.0 L1075.0,513.7 L1078.3,515.0 L1081.7,516.7 L1084.2,515.8 L1086.7,517.5 L1090.0,515.8 L1092.5,515.8 L1096.2,514.2" fill="none" stroke="#5dc88e" stroke-width="3" stroke-linejoin="round" stroke-linecap="round"/>

  <!-- grid (drawn over series, translucent) -->
  <g stroke="#ffffff" stroke-opacity="0.13" stroke-width="1.3" fill="none">
    <path d="M24,167.5H1097 M24,229.2H1097 M24,290.5H1097 M24,352.200H1097 M24,413.4H1097 M24,474.5H1097 M24,536.300H1097 M24,597.300H1097"/>
  </g>
  <!-- open price dotted line -->
  <path d="M105.750,545 H1097" stroke="#aeb1bd" stroke-width="1.9" stroke-dasharray="1.9 4.83" fill="none"/>
  <rect x="28" y="528" width="77" height="38.300" rx="8" fill="#222330"/>
  <text x="35.600" y="553.800" class="ax" style="font-size:20.6px;fill:#a9acbd;letter-spacing:-0.18px;stroke:#a9acbd;stroke-width:0.2px">8.5936</text>

  <!-- y axis labels -->
  <g class="ax">
    <text x="1106.5" y="173.3">70.0</text>
    <text x="1106.5" y="235.1">60.0</text>
    <text x="1106.5" y="296.4">50.0</text>
    <text x="1106.5" y="358.1">40.0</text>
    <text x="1106.5" y="419.3">30.0</text>
    <text x="1106.5" y="480.4">20.0</text>
    <text x="1106.5" y="542.2">10.0</text>
  </g>
  <text x="1118.200" y="683.700" class="ax" style="font-weight:bold;font-size:20.400px;letter-spacing:-0.85px;fill:#979bb0;stroke:none">USD</text>
  <rect x="1096.2" y="493.300" width="57.5" height="42.5" rx="4.5" fill="#5dc68b"/>
  <text x="1105.800" y="522.900" class="ax" style="fill:#ffffff;stroke:#ffffff;letter-spacing:-0.75px">13.2</text>

  <!-- watermark -->
  <g transform="translate(835,581.3) scale(0.5228)" fill="#d3d7ea">
    <path d="M66.54,46.41a4.09,4.09,0,0,1-4.17.28c-1.54-.87-2.37-2.91-2.37-5.69V32.5c0-4-1.58-6.86-4.22-7.63-4.48-1.3-7.85,4.18-9.12,6.24L38.74,44V28.22c-.09-3.630-1.27-5.8-3.51-6.46-1.48-.43-3.7-.26-5.86,3L11.640,53.32A32.6,32.6,0,0,1,7.830,38.83c0-17.1,13.7-31,30.43-31s30.43,13.9,30.43,31c0,0,0,.06,0,.09s0,.06,0,.09c.17,3.32-.9,5.950-2.830,7.260Zm10-7.570v-.17C76.4,17.32,59.28,0,38.260,0S0,17.42,0,38.830,17.160,77.670,38.260,77.670a37.810,37.810,0,0,0,26-10.360,3.910,3.910,0,1,0-5.370-5.690A30.070,30.070,0,0,1,17.090,61l16-25.690v11.9c0,5.7,2.210,7.540,4.070,8.080s4.690.17,7.670-4.670l8.830-14.300c.28-.46.54-.86.78-1.2V41c0,5.330,2.130,9.600,5.860,11.690a11.900,11.900,0,0,0,12.100-.44c4.200-2.730,6.490-7.670,6.190-13.410Z"/>
  </g>
  <text x="888.5" y="611" style="font-family:'Liberation Sans',sans-serif;font-weight:bold;font-size:25px;fill:#d3d7ea;letter-spacing:-0.05px">CoinMarketCap</text>

  <!-- x axis labels -->
  <g class="ax" text-anchor="middle" style="letter-spacing:0.4px">
    <text x="80.5" y="716.700" style="letter-spacing:-0.2px">20 Jan</text>
    <text x="275" y="716.700" style="letter-spacing:-0.4px">27 Jan</text>
    <text x="469" y="716.700" style="letter-spacing:-0.7px">3 Feb</text>
    <text x="663" y="716.700" style="letter-spacing:-0.8px">10 Feb</text>
    <text x="858" y="716.700" style="letter-spacing:-0.95px">17 Feb</text>
    <text x="1053" y="716.700" style="letter-spacing:-0.45px">24 Feb</text>
    <text x="80.5" y="869.300" style="letter-spacing:-0.2px">20 Jan</text>
    <text x="275" y="869.300" style="letter-spacing:-0.4px">27 Jan</text>
    <text x="469" y="869.300" style="letter-spacing:-0.7px">3 Feb</text>
    <text x="663" y="869.300" style="letter-spacing:-0.8px">10 Feb</text>
    <text x="858" y="869.300" style="letter-spacing:-0.95px">17 Feb</text>
    <text x="1053" y="869.300" style="letter-spacing:-0.45px">24 Feb</text>
  </g>

  <!-- event markers -->
  <path d="M105.1,719.4 C108.1,723.0 111.6,727.2 115.6,729.78 A20.0,20.0 0 1 1 94.6,729.78 C98.6,727.2 102.1,723.0 105.1,719.4 Z" fill="#5bc58c" stroke="#5bc58c" stroke-width="0.6" stroke-linejoin="round"/>
  <g fill="none" stroke="#ffffff" stroke-width="1.9" stroke-linejoin="round" stroke-linecap="round">
    <path d="M98,736.300 H106 L113.2,743 V755.600 H98 Z"/>
    <path d="M106,736.300 V743 H113.2"/>
    <path d="M102,746.700 H109.300 M102,751 H109.300"/>
  </g>
  <path d="M774.5,719.3 C777.5,722.9 781.0,727.1 785.0,729.68 A20.0,20.0 0 1 1 764.0,729.68 C768.0,727.1 771.5,722.9 774.5,719.3 Z" fill="#ebbb84" stroke="#ebbb84" stroke-width="0.6" stroke-linejoin="round"/>
  <text x="774.4" y="754.300" text-anchor="middle" style="font-family:'Liberation Sans',sans-serif;font-size:21px;fill:#ffffff;stroke:#ffffff;stroke-width:0.6px;stroke-linejoin:round">i</text>

  <!-- navigator -->
  <rect x="24" y="774" width="1072" height="68" fill="#141b33"/>
  <path d="M25.5,834.3 L26.8,831.1 L28.8,830.5 L31.2,822.6 L32.5,822.8 L33.8,824.8 L35.0,823.8 L37.5,813.5 L38.8,820.1 L40.5,818.4 L43.8,821.3 L46.2,817.8 L48.0,819.4 L50.0,818.8 L52.5,810.7 L54.5,805.7 L55.0,804.0 L57.5,792.3 L58.8,784.2 L60.5,780.5 L62.0,784.2 L63.8,791.6 L66.2,787.3 L68.8,787.3 L71.2,781.6 L72.5,791.0 L73.8,804.0 L76.2,803.3 L78.8,804.4 L80.2,797.6 L81.8,792.2 L83.8,792.3 L86.2,797.5 L88.0,797.6 L90.5,800.7 L92.5,801.2 L94.2,800.2 L96.2,806.4 L98.0,806.4 L100.0,811.0 L101.8,811.2 L103.8,815.1 L105.0,815.2 L106.8,812.4 L108.8,813.9 L112.0,808.0 L115.0,810.0 L117.5,809.5 L121.2,809.2 L123.8,805.7 L124.2,805.0 L125.5,805.0 L127.5,801.7 L129.2,806.0 L131.2,806.2 L133.8,807.4 L136.2,805.9 L138.8,806.0 L141.2,807.0 L143.8,806.9 L146.2,807.2 L148.8,809.2 L151.2,809.5 L152.5,809.0 L155.0,810.2 L157.5,811.0 L160.0,810.0 L164.2,810.5 L167.5,810.9 L170.0,812.1 L174.2,812.1 L176.7,810.2 L179.2,811.0 L182.5,812.7 L185.0,812.5 L187.5,814.8 L190.0,814.7 L191.7,813.1 L195.0,812.8 L196.7,812.4 L199.2,812.9 L202.5,813.5 L204.7,814.2 L207.5,813.8 L210.0,814.8 L212.5,816.2 L214.7,818.4 L217.5,817.1 L220.0,818.2 L223.3,818.9 L225.8,819.6 L228.3,819.1 L231.7,818.6 L235.0,817.5 L237.5,816.4 L240.8,817.6 L242.5,816.1 L245.0,816.2 L248.3,815.5 L250.8,816.0 L253.3,817.1 L256.7,817.3 L260.8,817.4 L262.5,817.8 L264.2,817.2 L266.7,818.2 L269.2,819.0 L273.3,819.3 L277.5,820.1 L280.0,819.9 L282.5,820.2 L284.2,819.1 L286.7,818.8 L289.2,819.4 L291.7,819.8 L293.3,818.9 L295.8,819.0 L298.3,817.5 L300.8,816.6 L303.3,816.6 L305.8,817.3 L310.0,817.2 L312.5,816.7 L315.0,817.3 L317.5,817.1 L320.0,818.4 L322.0,819.6 L324.2,819.0 L326.7,818.6 L330.0,818.9 L332.5,818.2 L335.8,818.8 L338.3,818.5 L340.8,819.2 L343.3,819.1 L345.8,818.8 L349.2,818.2 L352.5,819.0 L356.7,818.2 L360.8,818.6 L365.0,818.9 L367.5,819.2 L370.0,818.5 L373.3,818.8 L376.7,819.3 L380.0,819.9 L383.3,820.1 L385.8,820.4 L388.3,820.2 L390.8,820.4 L394.2,819.8 L396.7,820.0 L398.3,819.5 L400.0,820.0 L401.7,820.8 L404.2,820.7 L407.5,821.5 L410.0,821.0 L412.5,821.5 L415.8,821.4 L418.3,821.8 L420.8,822.3 L423.3,822.1 L425.0,822.8 L426.3,822.7 L428.3,823.4 L430.0,824.2 L430.8,824.9 L433.3,824.8 L435.0,825.2 L437.5,824.7 L440.0,824.9 L441.3,824.0 L444.2,824.0 L446.7,823.8 L449.2,824.5 L451.3,823.6 L453.3,823.0 L455.0,824.5 L457.5,825.2 L460.0,824.2 L462.5,824.5 L464.7,824.8 L465.3,826.8 L468.3,827.1 L471.7,826.6 L474.2,826.9 L476.3,826.5 L479.2,827.0 L482.5,825.9 L485.0,825.8 L487.0,826.2 L489.2,825.0 L491.7,825.3 L493.3,825.2 L496.3,825.8 L498.0,826.9 L500.0,827.1 L502.5,827.9 L505.0,827.4 L508.3,826.7 L510.3,826.9 L513.3,826.7 L515.8,827.8 L519.2,827.1 L522.5,826.7 L525.0,826.6 L527.5,826.8 L530.0,826.5 L533.3,825.3 L535.8,824.9 L539.2,826.0 L542.5,826.1 L545.0,826.6 L548.3,826.1 L551.7,825.9 L554.2,825.5 L557.5,825.9 L561.7,826.3 L565.8,826.9 L569.7,827.5 L571.7,827.1 L574.2,827.2 L577.5,826.9 L582.5,827.1 L587.5,826.8 L590.8,826.5 L592.5,826.9 L595.8,827.0 L598.7,827.8 L602.5,827.6 L605.8,827.8 L609.2,827.9 L610.8,827.5 L615.0,827.4 L617.5,827.4 L620.0,827.5 L623.3,827.2 L630.0,827.2 L633.3,827.0 L635.8,826.8 L638.3,826.9 L640.0,827.2 L643.3,827.5 L645.8,827.9 L648.3,827.7 L651.7,827.7 L653.3,828.0 L655.0,828.6 L658.3,828.1 L661.3,829.3 L663.3,828.6 L666.7,828.2 L670.8,828.1 L673.3,827.8 L675.8,828.1 L678.3,828.0 L681.7,828.1 L685.0,828.4 L687.5,827.9 L690.0,828.1 L692.5,827.6 L694.2,827.6 L696.7,828.0 L699.2,828.1 L701.3,828.6 L704.2,828.4 L706.7,828.6 L711.7,828.7 L714.2,828.6 L716.7,828.9 L720.0,828.8 L723.3,828.7 L725.8,828.8 L728.3,828.7 L730.8,829.3 L733.3,828.8 L736.7,828.9 L740.0,828.6 L743.3,828.5 L746.7,828.7 L748.3,827.0 L750.8,827.5 L752.5,827.5 L754.2,828.1 L759.2,827.8 L760.8,828.1 L764.2,827.7 L766.7,827.8 L770.0,828.2 L773.3,827.9 L777.5,827.2 L779.2,827.5 L780.8,825.6 L784.7,825.5 L786.7,824.2 L788.3,823.3 L789.5,821.5 L790.5,821.5 L792.0,823.1 L794.2,822.8 L795.8,824.6 L797.2,824.5 L798.8,823.4 L801.3,823.4 L803.3,824.0 L805.3,824.3 L807.5,824.0 L809.7,823.8 L811.3,825.0 L814.2,825.6 L816.7,826.1 L818.3,825.9 L820.3,826.5 L822.5,826.0 L824.7,825.7 L827.5,826.2 L830.0,826.0 L834.2,826.0 L837.5,825.8 L840.0,825.4 L842.0,825.9 L845.0,826.2 L848.3,825.9 L850.8,825.7 L852.5,825.8 L854.2,825.6 L856.7,825.9 L859.2,826.7 L861.7,827.1 L863.3,826.8 L866.7,826.8 L869.2,826.6 L871.7,827.1 L874.2,827.5 L876.7,827.2 L880.8,827.2 L885.0,827.2 L886.7,827.6 L888.3,828.0 L891.7,827.8 L895.0,827.6 L896.7,828.0 L900.0,828.3 L903.3,828.1 L906.7,827.9 L910.8,827.8 L913.3,828.2 L916.7,827.4 L920.0,827.2 L924.2,827.5 L928.3,827.4 L933.3,827.8 L935.8,827.4 L939.2,827.5 L941.7,827.3 L946.7,827.5 L949.2,827.1 L951.7,827.4 L954.2,827.7 L958.3,827.5 L960.8,827.6 L963.3,827.3 L967.5,827.9 L970.8,827.6 L975.0,827.3 L979.2,827.1 L981.7,827.7 L984.2,828.1 L987.5,828.4 L991.7,828.1 L998.3,828.2 L1001.7,828.0 L1006.7,828.0 L1010.0,827.7 L1013.3,827.9 L1017.5,827.8 L1021.7,828.0 L1026.7,828.0 L1028.3,827.8 L1031.7,828.1 L1036.7,828.3 L1041.7,828.2 L1046.7,828.1 L1049.2,828.4 L1052.5,829.0 L1056.7,829.0 L1060.8,828.9 L1063.3,829.2 L1067.5,829.0 L1070.8,829.1 L1071.7,830.1 L1073.3,830.7 L1075.0,830.3 L1078.3,830.5 L1081.7,830.7 L1084.2,830.6 L1086.7,830.8 L1090.0,830.6 L1092.5,830.6 L1096.2,830.4 L1096.2,842 L25.5,842 Z" fill="#222a4e"/>
  <path d="M24,774 H1096" stroke="#262b3d" stroke-width="1.2"/>
  <path d="M79,774V842 M273.5,774V842 M467,774V842 M662.5,774V842 M857.5,774V842 M1053.3,774V842" stroke="#2f3348" stroke-width="1.3"/>
  <path d="M25.5,834.3 L26.8,831.1 L28.8,830.5 L31.2,822.6 L32.5,822.8 L33.8,824.8 L35.0,823.8 L37.5,813.5 L38.8,820.1 L40.5,818.4 L43.8,821.3 L46.2,817.8 L48.0,819.4 L50.0,818.8 L52.5,810.7 L54.5,805.7 L55.0,804.0 L57.5,792.3 L58.8,784.2 L60.5,780.5 L62.0,784.2 L63.8,791.6 L66.2,787.3 L68.8,787.3 L71.2,781.6 L72.5,791.0 L73.8,804.0 L76.2,803.3 L78.8,804.4 L80.2,797.6 L81.8,792.2 L83.8,792.3 L86.2,797.5 L88.0,797.6 L90.5,800.7 L92.5,801.2 L94.2,800.2 L96.2,806.4 L98.0,806.4 L100.0,811.0 L101.8,811.2 L103.8,815.1 L105.0,815.2 L106.8,812.4 L108.8,813.9 L112.0,808.0 L115.0,810.0 L117.5,809.5 L121.2,809.2 L123.8,805.7 L124.2,805.0 L125.5,805.0 L127.5,801.7 L129.2,806.0 L131.2,806.2 L133.8,807.4 L136.2,805.9 L138.8,806.0 L141.2,807.0 L143.8,806.9 L146.2,807.2 L148.8,809.2 L151.2,809.5 L152.5,809.0 L155.0,810.2 L157.5,811.0 L160.0,810.0 L164.2,810.5 L167.5,810.9 L170.0,812.1 L174.2,812.1 L176.7,810.2 L179.2,811.0 L182.5,812.7 L185.0,812.5 L187.5,814.8 L190.0,814.7 L191.7,813.1 L195.0,812.8 L196.7,812.4 L199.2,812.9 L202.5,813.5 L204.7,814.2 L207.5,813.8 L210.0,814.8 L212.5,816.2 L214.7,818.4 L217.5,817.1 L220.0,818.2 L223.3,818.9 L225.8,819.6 L228.3,819.1 L231.7,818.6 L235.0,817.5 L237.5,816.4 L240.8,817.6 L242.5,816.1 L245.0,816.2 L248.3,815.5 L250.8,816.0 L253.3,817.1 L256.7,817.3 L260.8,817.4 L262.5,817.8 L264.2,817.2 L266.7,818.2 L269.2,819.0 L273.3,819.3 L277.5,820.1 L280.0,819.9 L282.5,820.2 L284.2,819.1 L286.7,818.8 L289.2,819.4 L291.7,819.8 L293.3,818.9 L295.8,819.0 L298.3,817.5 L300.8,816.6 L303.3,816.6 L305.8,817.3 L310.0,817.2 L312.5,816.7 L315.0,817.3 L317.5,817.1 L320.0,818.4 L322.0,819.6 L324.2,819.0 L326.7,818.6 L330.0,818.9 L332.5,818.2 L335.8,818.8 L338.3,818.5 L340.8,819.2 L343.3,819.1 L345.8,818.8 L349.2,818.2 L352.5,819.0 L356.7,818.2 L360.8,818.6 L365.0,818.9 L367.5,819.2 L370.0,818.5 L373.3,818.8 L376.7,819.3 L380.0,819.9 L383.3,820.1 L385.8,820.4 L388.3,820.2 L390.8,820.4 L394.2,819.8 L396.7,820.0 L398.3,819.5 L400.0,820.0 L401.7,820.8 L404.2,820.7 L407.5,821.5 L410.0,821.0 L412.5,821.5 L415.8,821.4 L418.3,821.8 L420.8,822.3 L423.3,822.1 L425.0,822.8 L426.3,822.7 L428.3,823.4 L430.0,824.2 L430.8,824.9 L433.3,824.8 L435.0,825.2 L437.5,824.7 L440.0,824.9 L441.3,824.0 L444.2,824.0 L446.7,823.8 L449.2,824.5 L451.3,823.6 L453.3,823.0 L455.0,824.5 L457.5,825.2 L460.0,824.2 L462.5,824.5 L464.7,824.8 L465.3,826.8 L468.3,827.1 L471.7,826.6 L474.2,826.9 L476.3,826.5 L479.2,827.0 L482.5,825.9 L485.0,825.8 L487.0,826.2 L489.2,825.0 L491.7,825.3 L493.3,825.2 L496.3,825.8 L498.0,826.9 L500.0,827.1 L502.5,827.9 L505.0,827.4 L508.3,826.7 L510.3,826.9 L513.3,826.7 L515.8,827.8 L519.2,827.1 L522.5,826.7 L525.0,826.6 L527.5,826.8 L530.0,826.5 L533.3,825.3 L535.8,824.9 L539.2,826.0 L542.5,826.1 L545.0,826.6 L548.3,826.1 L551.7,825.9 L554.2,825.5 L557.5,825.9 L561.7,826.3 L565.8,826.9 L569.7,827.5 L571.7,827.1 L574.2,827.2 L577.5,826.9 L582.5,827.1 L587.5,826.8 L590.8,826.5 L592.5,826.9 L595.8,827.0 L598.7,827.8 L602.5,827.6 L605.8,827.8 L609.2,827.9 L610.8,827.5 L615.0,827.4 L617.5,827.4 L620.0,827.5 L623.3,827.2 L630.0,827.2 L633.3,827.0 L635.8,826.8 L638.3,826.9 L640.0,827.2 L643.3,827.5 L645.8,827.9 L648.3,827.7 L651.7,827.7 L653.3,828.0 L655.0,828.6 L658.3,828.1 L661.3,829.3 L663.3,828.6 L666.7,828.2 L670.8,828.1 L673.3,827.8 L675.8,828.1 L678.3,828.0 L681.7,828.1 L685.0,828.4 L687.5,827.9 L690.0,828.1 L692.5,827.6 L694.2,827.6 L696.7,828.0 L699.2,828.1 L701.3,828.6 L704.2,828.4 L706.7,828.6 L711.7,828.7 L714.2,828.6 L716.7,828.9 L720.0,828.8 L723.3,828.7 L725.8,828.8 L728.3,828.7 L730.8,829.3 L733.3,828.8 L736.7,828.9 L740.0,828.6 L743.3,828.5 L746.7,828.7 L748.3,827.0 L750.8,827.5 L752.5,827.5 L754.2,828.1 L759.2,827.8 L760.8,828.1 L764.2,827.7 L766.7,827.8 L770.0,828.2 L773.3,827.9 L777.5,827.2 L779.2,827.5 L780.8,825.6 L784.7,825.5 L786.7,824.2 L788.3,823.3 L789.5,821.5 L790.5,821.5 L792.0,823.1 L794.2,822.8 L795.8,824.6 L797.2,824.5 L798.8,823.4 L801.3,823.4 L803.3,824.0 L805.3,824.3 L807.5,824.0 L809.7,823.8 L811.3,825.0 L814.2,825.6 L816.7,826.1 L818.3,825.9 L820.3,826.5 L822.5,826.0 L824.7,825.7 L827.5,826.2 L830.0,826.0 L834.2,826.0 L837.5,825.8 L840.0,825.4 L842.0,825.9 L845.0,826.2 L848.3,825.9 L850.8,825.7 L852.5,825.8 L854.2,825.6 L856.7,825.9 L859.2,826.7 L861.7,827.1 L863.3,826.8 L866.7,826.8 L869.2,826.6 L871.7,827.1 L874.2,827.5 L876.7,827.2 L880.8,827.2 L885.0,827.2 L886.7,827.6 L888.3,828.0 L891.7,827.8 L895.0,827.6 L896.7,828.0 L900.0,828.3 L903.3,828.1 L906.7,827.9 L910.8,827.8 L913.3,828.2 L916.7,827.4 L920.0,827.2 L924.2,827.5 L928.3,827.4 L933.3,827.8 L935.8,827.4 L939.2,827.5 L941.7,827.3 L946.7,827.5 L949.2,827.1 L951.7,827.4 L954.2,827.7 L958.3,827.5 L960.8,827.6 L963.3,827.3 L967.5,827.9 L970.8,827.6 L975.0,827.3 L979.2,827.1 L981.7,827.7 L984.2,828.1 L987.5,828.4 L991.7,828.1 L998.3,828.2 L1001.7,828.0 L1006.7,828.0 L1010.0,827.7 L1013.3,827.9 L1017.5,827.8 L1021.7,828.0 L1026.7,828.0 L1028.3,827.8 L1031.7,828.1 L1036.7,828.3 L1041.7,828.2 L1046.7,828.1 L1049.2,828.4 L1052.5,829.0 L1056.7,829.0 L1060.8,828.9 L1063.3,829.2 L1067.5,829.0 L1070.8,829.1 L1071.7,830.1 L1073.3,830.7 L1075.0,830.3 L1078.3,830.5 L1081.7,830.7 L1084.2,830.6 L1086.7,830.8 L1090.0,830.6 L1092.5,830.6 L1096.2,830.4" fill="none" stroke="#4a78ee" stroke-width="1.8" stroke-linejoin="round"/>
  <!-- handles -->
  <path d="M24,774V842 M1095.5,774V842" stroke="#222431" stroke-width="1.5"/>
  <rect x="11.4" y="790.4" width="23.300" height="32" rx="10" fill="#242530"/>
  <path d="M20,801V813.200 M25.800,801V813.200" stroke="#bcbfd0" stroke-width="1.7"/>
  <rect x="1083.2" y="790.4" width="23.100" height="32.300" rx="10" fill="#242530"/>
  <path d="M1091.900,801V813.200 M1097.300,801V813.200" stroke="#bcbfd0" stroke-width="1.7"/>
</svg>
</body>
</html>
